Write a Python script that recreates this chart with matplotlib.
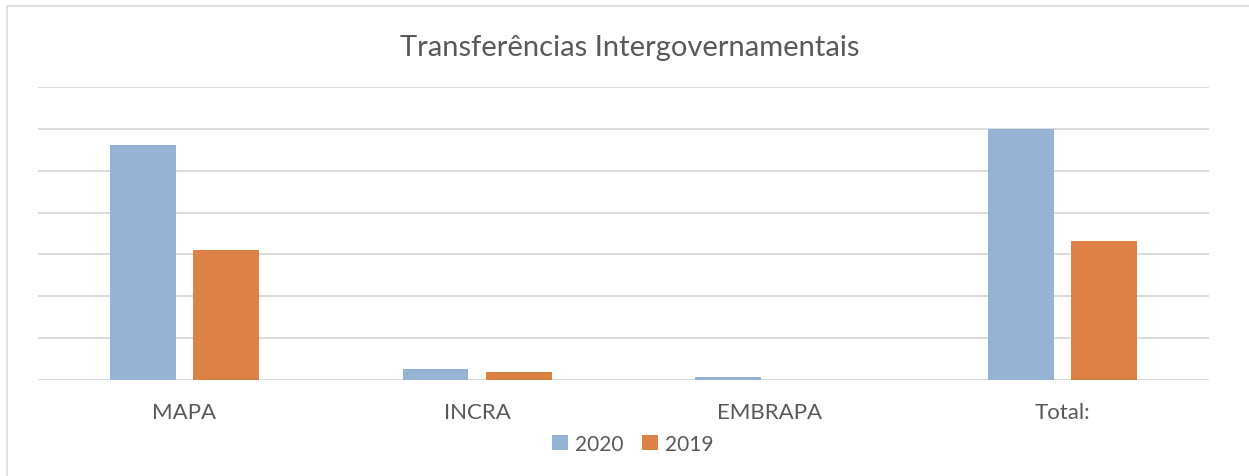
import numpy as np
import matplotlib.pyplot as plt
from matplotlib.patches import Rectangle

# Data (in gridline units, no axis labels shown in the original)
categories = ["MAPA", "INCRA", "EMBRAPA", "Total:"]
values_2020 = [5.62, 0.26, 0.07, 6.0]
values_2019 = [3.11, 0.19, 0.0, 3.32]
series_names = ["2020", "2019"]

color_2020 = "#95B3D3"
color_2019 = "#DE8146"
grid_color = "#D9D9D9"
text_color = "#595959"

plt.rcParams['font.family'] = ['Lato', 'DejaVu Sans']

fig = plt.figure(figsize=(12.49, 4.77), dpi=100)
ax = fig.add_axes([38 / 1249, 1 - 381 / 477, (1209 - 38) / 1249, (381 - 88) / 477])

x = np.arange(len(categories))
width = 0.225
offset = 0.142
ax.bar(x - offset, values_2020, width, color=color_2020, label=series_names[0], zorder=3)
ax.bar(x + offset, values_2019, width, color=color_2019, label=series_names[1], zorder=3)

ax.set_xlim(-0.5, len(categories) - 0.5)
ax.set_ylim(0, 7)
ax.set_yticks(np.arange(0, 8, 1))
ax.yaxis.grid(True, color=grid_color, linewidth=1.3, zorder=0)
ax.tick_params(axis='y', left=False, labelleft=False)
ax.tick_params(axis='x', bottom=False, labelsize=16, labelcolor=text_color, pad=12)
ax.set_xticks(x)
ax.set_xticklabels(categories)
for s in ax.spines.values():
    s.set_visible(False)

fig.text(630 / 1249, 1 - 48 / 477, "Transferências Intergovernamentais",
         ha='center', va='center', fontsize=21, color=text_color)

fig.legend(loc='center', bbox_to_anchor=(633 / 1249, 1 - 445 / 477), ncol=2,
           frameon=False, fontsize=15, labelcolor=text_color,
           handlelength=0.75, handleheight=0.75, handletextpad=0.35, columnspacing=0.9)

# chart area border (only top and left visible in the crop)
fig.patches.append(Rectangle((7 / 1249, -0.1), 1.2, 1 - 7 / 477 + 0.1,
                             transform=fig.transFigure, fill=False,
                             edgecolor=grid_color, linewidth=1.2))

plt.savefig("out.png", dpi=100)
